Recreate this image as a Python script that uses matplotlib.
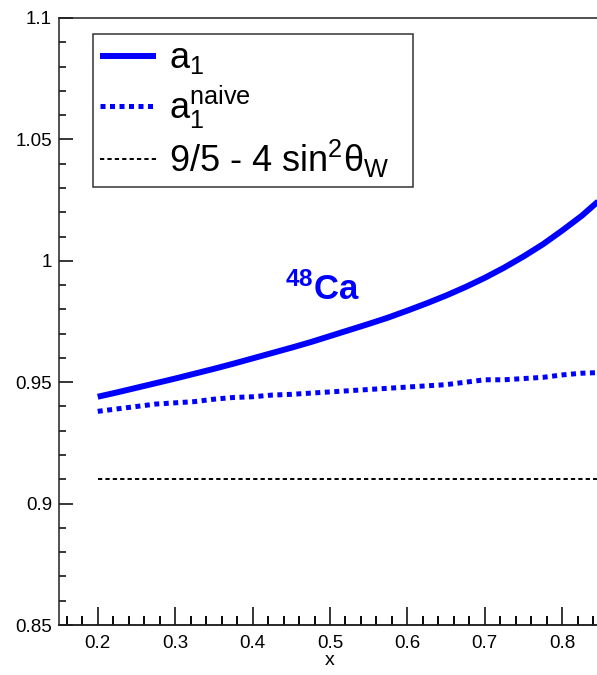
import matplotlib
matplotlib.use("Agg")
import matplotlib.pyplot as plt
from matplotlib.ticker import MultipleLocator, NullLocator

plt.rcParams['font.family'] = ['Liberation Sans', 'DejaVu Sans']
plt.rcParams['mathtext.fontset'] = 'custom'
plt.rcParams['mathtext.rm'] = 'Liberation Sans'
plt.rcParams['mathtext.it'] = 'Liberation Sans'
plt.rcParams['mathtext.bf'] = 'Liberation Sans:bold'

# Bjorken x grid and the two 48Ca curves
x_vals = [0.200, 0.225, 0.250, 0.275, 0.300, 0.325, 0.350, 0.375, 0.400,
          0.425, 0.450, 0.475, 0.500, 0.525, 0.550, 0.575, 0.600, 0.625,
          0.650, 0.675, 0.700, 0.725, 0.750, 0.775, 0.800, 0.825, 0.850]
a1 = [0.9440, 0.9458, 0.9477, 0.9496, 0.9515, 0.9535, 0.9555, 0.9576, 0.9598,
      0.9620, 0.9642, 0.9665, 0.9690, 0.9715, 0.9740, 0.9766, 0.9795, 0.9825,
      0.9857, 0.9892, 0.9930, 0.9972, 1.0018, 1.0068, 1.0125, 1.0185, 1.0255]
a1_naive = [0.938, 0.939, 0.940, 0.941, 0.9415, 0.942, 0.943, 0.9437, 0.944,
            0.9447, 0.945, 0.9455, 0.946, 0.9465, 0.947, 0.9475, 0.948, 0.9485,
            0.949, 0.950, 0.951, 0.951, 0.9515, 0.952, 0.953, 0.9537, 0.954]
sm_value = 0.91  # 9/5 - 4 sin^2(theta_W)
sm_x = [0.20, 0.85]

x_major = [0.2, 0.3, 0.4, 0.5, 0.6, 0.7, 0.8]
x_minor = [0.16, 0.18, 0.22, 0.24, 0.26, 0.28, 0.32, 0.34, 0.36, 0.38,
           0.42, 0.44, 0.46, 0.48, 0.52, 0.54, 0.56, 0.58, 0.62, 0.64,
           0.66, 0.68, 0.72, 0.74, 0.76, 0.78, 0.82, 0.84]
y_major = [0.85, 0.9, 0.95, 1.0, 1.05, 1.1]

fig = plt.figure(figsize=(5.97, 6.75), dpi=100)
ax = fig.add_axes([59 / 597, 50 / 675, 542 / 597, 607 / 675])

ax.plot(x_vals, a1, color='#0000ff', lw=4.3, solid_capstyle='butt', label=r'$\mathrm{a}_1$')
ax.plot(x_vals, a1_naive, color='#0000ff', lw=3.6, linestyle=(0, (1.0, 0.9)),
        label=r'$\mathrm{a}_1^{\mathrm{naive}}$')
ax.plot(sm_x, [sm_value, sm_value], color='black', lw=1.4, linestyle=(0, (2.2, 1.6)),
        label=r'9/5 - 4 sin$^2\theta_\mathrm{W}$')

ax.set_xlim(0.15, 0.85)
ax.set_ylim(0.85, 1.1)
ax.set_xticks(x_major)
ax.set_xticklabels(['0.2', '0.3', '0.4', '0.5', '0.6', '0.7', '0.8'])
ax.set_xticks(x_minor, minor=True)
ax.set_yticks(y_major)
ax.set_yticklabels(['0.85', '0.9', '0.95', '1', '1.05', '1.1'])
ax.yaxis.set_minor_locator(MultipleLocator(0.01))

ax.tick_params(axis='x', which='minor', direction='in', length=6.5, width=1.1)
ax.tick_params(axis='x', which='major', direction='in', length=13, width=1.1, labelsize=13.5, pad=7)
ax.tick_params(axis='y', which='minor', direction='in', length=5, width=1.1)
ax.tick_params(axis='y', which='major', direction='in', length=10, width=1.1, labelsize=13.5, pad=5)
for side in ['left', 'bottom', 'top', 'right']:
    ax.spines[side].set_linewidth(1.1)
    ax.spines[side].set_color('#222222')

# short ticks along the bottom edge on their own helper axis
sec = ax.secondary_xaxis('bottom')
sec.set_xticks(x_minor)
sec.xaxis.set_minor_locator(NullLocator())
sec.tick_params(axis='x', which='major', direction='in', length=6.5, width=1.1,
                labelbottom=False, color='black')
sec.spines['bottom'].set_linewidth(1.1)
sec.spines['bottom'].set_color('#222222')

ax.set_xlabel('x', fontsize=14, labelpad=0)

ax.text(0.49, 0.984, r'$^{\mathbf{48}}\mathbf{Ca}$', color='#0000ff', fontsize=25,
        ha='center', va='baseline')

leg = ax.legend(loc='upper left', mode='expand',
                bbox_to_anchor=(93 / 597, 1 - 186 / 675, 320 / 597, 152 / 675),
                bbox_transform=fig.transFigure, fontsize=26, frameon=True,
                fancybox=False, handlelength=1.55, handletextpad=0.35,
                borderpad=0.2, labelspacing=0.2, borderaxespad=0)
leg.get_frame().set_edgecolor('black')
leg.get_frame().set_linewidth(1.1)

fig.savefig('out.png', dpi=100)
